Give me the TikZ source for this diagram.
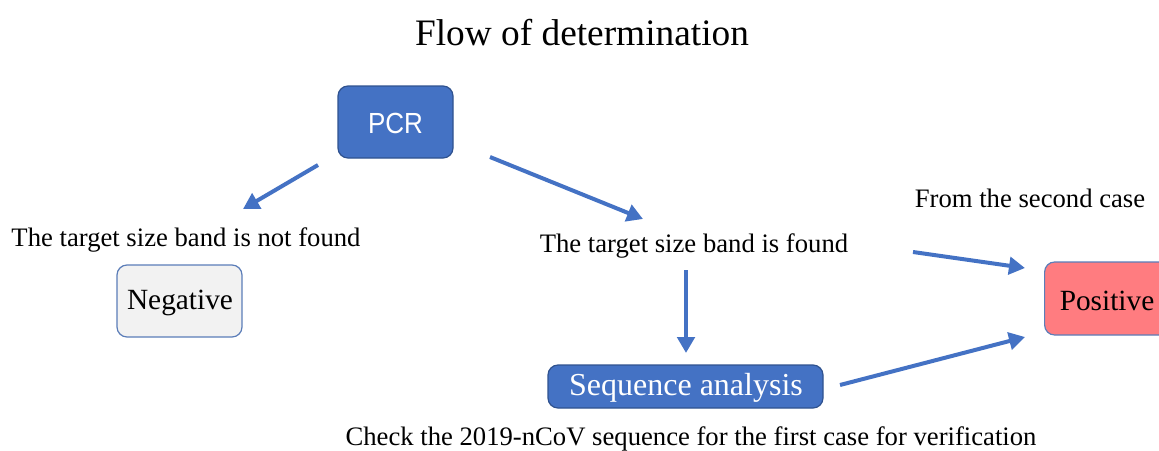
\documentclass[tikz,border=0pt]{standalone}
\usepackage{fontspec}
\setmainfont{Liberation Serif}
\newfontfamily\boxsans{Liberation Sans}
\usetikzlibrary{arrows.meta}
\definecolor{accent}{HTML}{4472C4}
\definecolor{accentdark}{HTML}{2F528F}
\definecolor{negfill}{HTML}{F2F2F2}
\definecolor{posfill}{HTML}{FF7C80}
\definecolor{frameblue}{HTML}{5B7DB8}
\tikzset{
  box/.style={rounded corners=7.5pt, line width=0.9pt, inner sep=0pt},
  bluebox/.style={box, fill=accent, draw=accentdark, text=white},
  label/.style={font=\fontsize{20}{24}\selectfont, inner sep=0pt},
  flow/.style={draw=accent, line width=3pt,
    -{Triangle[length=12pt,width=13pt]}},
}
\begin{document}
\begin{tikzpicture}[x=0.75pt,y=-0.75pt]
\useasboundingbox (0,0) rectangle (1159,450);
\clip (0,0) rectangle (1159,450);

\node[inner sep=0pt, font=\fontsize{28}{32}\selectfont] (title) at (582,33) {Flow of determination};

% boxes
\node[bluebox, minimum width=115*0.75pt, minimum height=72*0.75pt] (pcr) at (395.5,122) {};
\node[inner sep=0pt, text=white, font=\boxsans\fontsize{19.5}{22}\selectfont,
      yscale=1.12] (pcrtext) at (395.5,123) {PCR};
\node[box, fill=negfill, draw=frameblue, minimum width=125*0.75pt, minimum height=72*0.75pt] (neg) at (179.5,301) {};
\node[inner sep=0pt, font=\fontsize{22}{26}\selectfont] (negtext) at (180,303) {Negative};
\node[box, fill=posfill, draw=frameblue, minimum width=135*0.75pt, minimum height=73*0.75pt,
      anchor=west] (pos) at (1044,298.5) {};
\node[inner sep=0pt, font=\fontsize{22}{26}\selectfont] (postext) at (1107,301) {Positive};
\node[bluebox, minimum width=275*0.75pt, minimum height=43*0.75pt] (seq) at (685.5,386.5) {};
\node[inner sep=0pt, text=white, font=\fontsize{24}{28}\selectfont] (seqtext) at (686,388) {Sequence analysis};

% labels
\node[label] (notfound) at (186,239.5) {The target size band is not found};
\node[label] (found) at (694,245.5) {The target size band is found};
\node[label] (second) at (1030,198.5) {From the second case};
\node[label] (check) at (691,439) {Check the 2019-nCoV sequence for the first case for verification};

% arrow ends
\coordinate (a1s) at (318,165); \coordinate (a1e) at (243,209);
\coordinate (a2s) at (490,157); \coordinate (a2e) at (643,219);
\coordinate (a3s) at (686,270); \coordinate (a3e) at (686,353);
\coordinate (a4s) at (913,252); \coordinate (a4e) at (1025,268);
\coordinate (a5s) at (840,385); \coordinate (a5e) at (1025,337);

\draw[flow] (a1s) -- (a1e);
\draw[flow] (a2s) -- (a2e);
\draw[flow] (a3s) -- (a3e);
\draw[flow] (a4s) -- (a4e);
\draw[flow] (a5s) -- (a5e);
\end{tikzpicture}
\end{document}
